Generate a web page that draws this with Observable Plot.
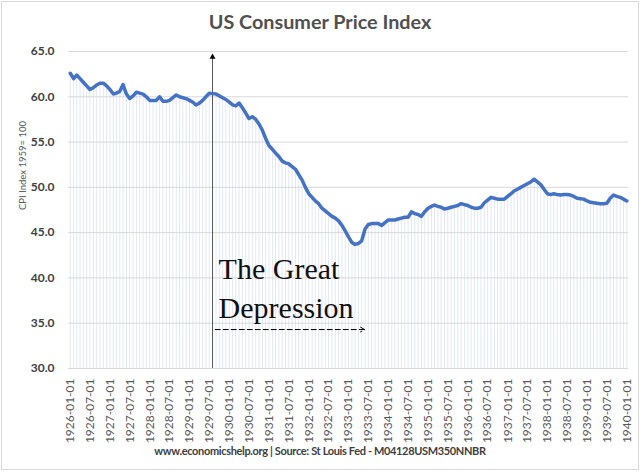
<!DOCTYPE html>
<html>
<head>
<meta charset="utf-8">
<script src="https://cdn.jsdelivr.net/npm/d3@7"></script>
<script src="https://cdn.jsdelivr.net/npm/@observablehq/plot@0.6"></script>
<style>
  html, body { margin: 0; padding: 0; background: #fff; }
  #wrap { position: relative; width: 640px; height: 471px; overflow: hidden; font-family: Lato, "Open Sans", sans-serif; }
  #frame { position: absolute; left: 1px; top: 1px; width: 636px; height: 467px; border: 1px solid #d9d9d9; pointer-events: none; }
  #title { position: absolute; left: 0; width: 640px; top: 9px; text-align: center; font-size: 19.8px; font-weight: bold; color: #505050; }
  #caption { position: absolute; left: 0; width: 640px; top: 444px; text-align: center; font-size: 11px; letter-spacing: -0.35px; font-weight: bold; color: #404040; }
  #chart { position: absolute; left: 0; top: 0; }
</style>
</head>
<body>
<div id="wrap">
  <div id="chart"></div>
  <div id="title">US Consumer Price Index</div>
  <div id="caption">www.economicshelp.org | Source: St Louis Fed - M04128USM350NNBR</div>
  <div id="frame"></div>
</div>
<script>
// Monthly CPI values (index 1957-59 = 100)
const cpi1926 = [62.6, 62.0, 62.4, 62.0, 61.6, 61.2, 60.8, 61.0, 61.3, 61.5, 61.5, 61.2];
const cpi1927 = [60.8, 60.3, 60.4, 60.6, 61.35, 60.3, 59.8, 60.1, 60.5, 60.4, 60.3, 60.0];
const cpi1928 = [59.6, 59.6, 59.6, 60.0, 59.5, 59.5, 59.6, 59.9, 60.2, 60.0, 59.9, 59.8];
const cpi1929 = [59.6, 59.4, 59.1, 59.3, 59.6, 60.0, 60.4, 60.35, 60.3, 60.1, 59.9, 59.7];
const cpi1930 = [59.4, 59.1, 59.0, 59.3, 58.8, 58.2, 57.6, 57.8, 57.5, 57.0, 56.3, 55.4];
const cpi1931 = [54.6, 54.2, 53.8, 53.4, 52.9, 52.7, 52.6, 52.3, 52.0, 51.4, 50.8, 50.0];
const cpi1932 = [49.3, 48.9, 48.5, 48.2, 47.7, 47.4, 47.1, 46.8, 46.6, 46.3, 45.8, 45.2];
const cpi1933 = [44.5, 43.9, 43.7, 43.8, 44.1, 45.4, 45.9, 46.0, 46.0, 46.0, 45.8, 46.1];
const cpi1934 = [46.4, 46.4, 46.4, 46.5, 46.6, 46.7, 46.7, 47.3, 47.1, 47.0, 46.8, 47.3];
const cpi1935 = [47.7, 47.9, 48.05, 47.9, 47.8, 47.6, 47.7, 47.8, 47.9, 48.0, 48.2, 48.1];
const cpi1936 = [48.0, 47.8, 47.7, 47.7, 47.8, 48.3, 48.6, 48.9, 48.8, 48.7, 48.7, 48.7];
const cpi1937 = [49.0, 49.3, 49.6, 49.8, 50.0, 50.2, 50.4, 50.6, 50.9, 50.6, 50.3, 49.8];
const cpi1938 = [49.3, 49.2, 49.3, 49.2, 49.15, 49.2, 49.2, 49.15, 49.0, 48.8, 48.75, 48.7];
const cpi1939 = [48.5, 48.35, 48.3, 48.25, 48.2, 48.2, 48.25, 48.8, 49.15, 49.0, 48.9, 48.7];
const cpi1940 = [48.5];

const yTicks = [30, 35, 40, 45, 50, 55, 60, 65];
const xTickLabels = [
  "1926-01-01","1926-07-01","1927-01-01","1927-07-01","1928-01-01","1928-07-01",
  "1929-01-01","1929-07-01","1930-01-01","1930-07-01","1931-01-01","1931-07-01",
  "1932-01-01","1932-07-01","1933-01-01","1933-07-01","1934-01-01","1934-07-01",
  "1935-01-01","1935-07-01","1936-01-01","1936-07-01","1937-01-01","1937-07-01",
  "1938-01-01","1938-07-01","1939-01-01","1939-07-01","1940-01-01"
];

// Annotation anchors (data units)
const noteLines = ["The Great", "Depression"];
const noteLineValues = [39.9, 35.6];
const noteDate = "1929-09-25";
const markerDate = "1929-07-31";
const markerTop = 64.4;
const dashFrom = "1929-08-25";
const dashTo = "1933-05-28";
const dashValue = 34.3;

const values = [].concat(cpi1926, cpi1927, cpi1928, cpi1929, cpi1930, cpi1931, cpi1932,
  cpi1933, cpi1934, cpi1935, cpi1936, cpi1937, cpi1938, cpi1939, cpi1940);
const dates = d3.utcMonth.range(new Date(Date.UTC(1926, 0, 1)), new Date(Date.UTC(1940, 1, 1)));
const data = values.map((v, i) => ({date: dates[i], value: v}));
const parse = d3.utcParse("%Y-%m-%d");
const xTicks = xTickLabels.map(parse);

const chart = Plot.plot({
  width: 640,
  height: 471,
  marginLeft: 68,
  marginRight: 12,
  marginTop: 51,
  marginBottom: 103,
  style: {fontFamily: "Lato, sans-serif", background: "transparent"},
  x: {type: "utc", domain: [new Date(Date.UTC(1925, 11, 16)), new Date(Date.UTC(1940, 0, 16))]},
  y: {domain: [30, 65]},
  marks: [
    Plot.ruleX(data, {x: "date", y1: 30, y2: "value", stroke: "#e2e8f4", strokeWidth: 1}),
    Plot.ruleY(yTicks, {stroke: "#d9d9d9", strokeWidth: 1}),
    Plot.axisY({ticks: yTicks, tickFormat: d => d.toFixed(1), tickSize: 0, tickPadding: 14,
      fontSize: 12, fontWeight: "bold", fill: "#404040", label: null}),
    Plot.axisX({ticks: xTicks, tickFormat: d3.utcFormat("%Y-%m-%d"), tickRotate: -90, tickSize: 0,
      tickPadding: 10, fontSize: 12, fill: "#595959", label: null}),
    Plot.text(["CPI Index 1959= 100"], {frameAnchor: "left", dx: -46, rotate: -90, fontSize: 9.5, fill: "#595959"}),
    Plot.ruleX([parse(markerDate)], {x: d => d, y1: 30, y2: markerTop, stroke: "#595959", strokeWidth: 1}),
    Plot.dot([parse(markerDate)], {x: d => d, y: markerTop, symbol: "triangle", r: 2.2, fill: "#000", stroke: null}),
    Plot.line(data, {x: "date", y: "value", stroke: "#4472c4", strokeWidth: 3.5, curve: "linear"}),
    Plot.text(noteLines, {x: () => parse(noteDate), y: (d, i) => noteLineValues[i], text: d => d,
      textAnchor: "start", lineAnchor: "bottom", fontFamily: "Liberation Serif, serif", fontSize: 30, fill: "#111"}),
    Plot.arrow([0], {x1: () => parse(dashFrom), x2: () => parse(dashTo), y1: dashValue, y2: dashValue,
      stroke: "#000", strokeWidth: 1, strokeDasharray: "5,3", headLength: 7, bend: 0})
  ]
});
document.getElementById("chart").appendChild(chart);
</script>
</body>
</html>
